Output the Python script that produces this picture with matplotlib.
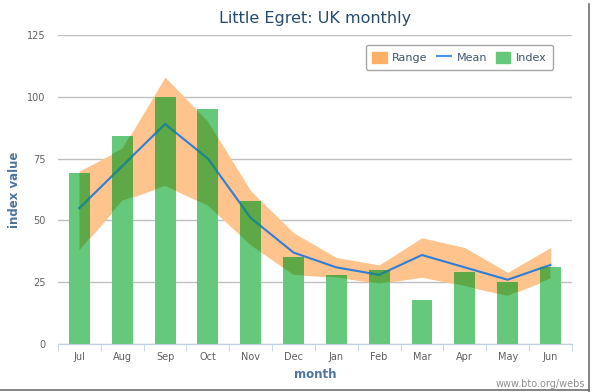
import matplotlib.pyplot as plt
from matplotlib.patches import Patch, Polygon
from matplotlib.lines import Line2D

months = ['Jul', 'Aug', 'Sep', 'Oct', 'Nov', 'Dec', 'Jan', 'Feb', 'Mar', 'Apr', 'May', 'Jun']
index = [69, 84, 100, 95, 58, 35, 28, 30, 18, 29, 25, 31]
mean = [55, 72, 89, 75, 51, 37, 31, 28, 36, 31, 26, 32]
range_hi = [70, 79, 108, 90, 62, 45, 35, 32, 43, 39, 29, 39]
range_lo = [38, 58, 64, 56, 40, 28, 27, 24.5, 27, 23.5, 19.5, 26.5]

x = list(range(len(months)))

fig = plt.figure(figsize=(5.92, 3.92), dpi=100)
ax = fig.add_axes([0.098, 0.1224, 0.868, 0.7883])

# range band
ax.fill_between(x, range_lo, range_hi, color='#ffc48e', lw=0, zorder=1)
poly_xy = list(zip(x, range_hi)) + list(zip(x[::-1], range_lo[::-1]))
clip_poly = Polygon(poly_xy, closed=True, transform=ax.transData)

# bars, with darker part where they sit on the band
bars = ax.bar(x, index, width=0.49, color='#66c87a', zorder=2)
dark = ax.bar(x, index, width=0.49, color='#5fa848', zorder=3)
for p in dark:
    p.set_clip_path(clip_poly)

# mean line, tinted where it runs under the bars
ax.plot(x, mean, color='#2f7ed8', lw=1.5, zorder=4)
for b in bars:
    seg, = ax.plot(x, mean, color='#1f8a78', lw=1.5, zorder=4.5)
    seg.set_clip_path(b)

ax.set_xlim(-0.5, 11.5)
ax.set_ylim(0, 125)
ax.set_yticks([0, 25, 50, 75, 100, 125])
ax.grid(axis='y', color='#c0c0c0', lw=1)
ax.set_axisbelow(True)
for s in ['top', 'right', 'left']:
    ax.spines[s].set_visible(False)
ax.spines['bottom'].set_color('#c0d0e0')
ax.spines['bottom'].set_zorder(5)

ax.set_xticks(x)
ax.set_xticklabels(months)
ax.set_xticks([i - 0.5 for i in range(13)], minor=True)
ax.tick_params(axis='x', which='major', length=0, labelsize=7, labelcolor='#606060', pad=6)
ax.tick_params(axis='x', which='minor', length=5, color='#c0d0e0')
ax.tick_params(axis='y', length=0, labelsize=7, labelcolor='#606060', pad=9)

ax.set_title('Little Egret: UK monthly', fontsize=11.5, color='#274b6d', pad=9)
ax.set_ylabel('index value', fontsize=8.5, fontweight='bold', color='#4d759e', labelpad=4)
ax.set_xlabel('month', fontsize=8.5, fontweight='bold', color='#4d759e', labelpad=4)

handles = [Patch(color='#ffb066'), Line2D([], [], color='#4d90f0', lw=1.5), Patch(color='#66c87a')]
leg = ax.legend(handles, ['Range', 'Mean', 'Index'], ncol=3, loc='upper right',
                bbox_to_anchor=(0.975, 0.985), fontsize=8, frameon=True, fancybox=True,
                edgecolor='#909090', handlelength=1.3, handleheight=1.1, columnspacing=0.8,
                handletextpad=0.5, borderpad=0.6)
for t in leg.get_texts():
    t.set_color('#3e576f')
leg.get_frame().set_linewidth(1)

fig.text(0.988, 0.008, 'www.bto.org/webs', fontsize=7, color='#909090', ha='right', va='bottom')

# window border of the screenshot
fig.add_artist(Line2D([0.995, 0.995], [0.0, 0.99], color='#707070', lw=1.2, transform=fig.transFigure))
fig.add_artist(Line2D([0.0, 0.995], [0.004, 0.004], color='#707070', lw=1.2, transform=fig.transFigure))

fig.savefig('out.png', dpi=100)
